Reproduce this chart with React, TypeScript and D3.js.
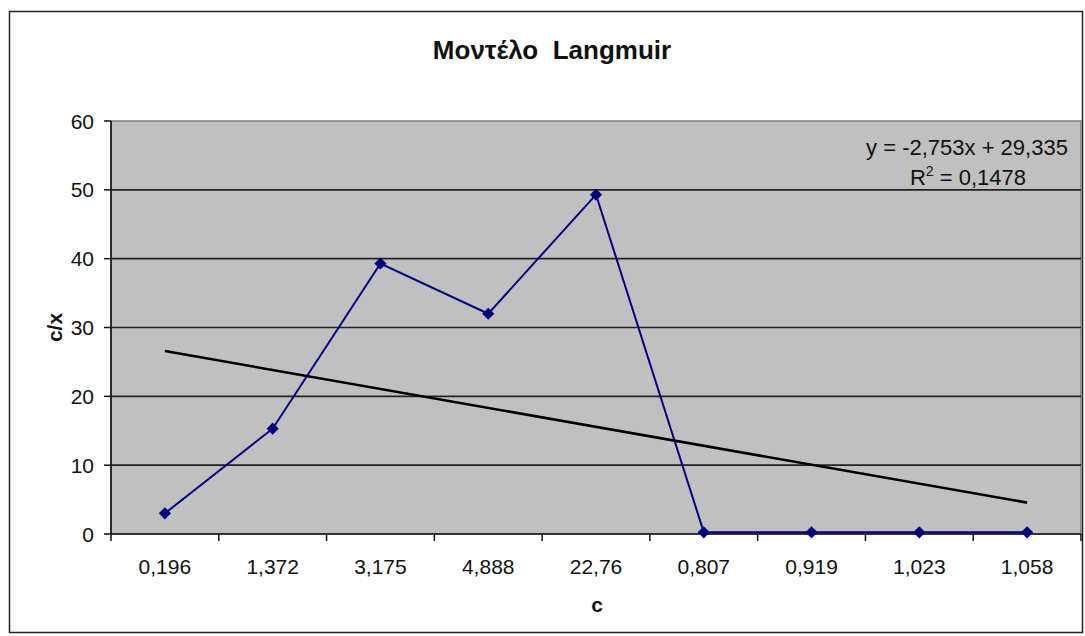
import React from "react";
import * as d3 from "d3";

const categories = ["0,196", "1,372", "3,175", "4,888", "22,76", "0,807", "0,919", "1,023", "1,058"];
const values = [3.0, 15.3, 39.3, 32.0, 49.3, 0.25, 0.25, 0.25, 0.25];
const yTicks = [0, 10, 20, 30, 40, 50, 60];
const trendSlope = -2.753;
const trendIntercept = 29.335;
const equationLines = ["y = -2,753x + 29,335", "= 0,1478"];
const title = "Μοντέλο  Langmuir";

const W = 1085;
const H = 636;
const plot = { left: 111, right: 1081, top: 121, bottom: 534 };
const FONT = "'Liberation Sans', Arial, sans-serif";

export default function App() {
  const x = d3.scaleBand<string>().domain(categories).range([plot.left, plot.right]).padding(0);
  const y = d3.scaleLinear().domain([0, 60]).range([plot.bottom, plot.top]);
  const cx = (i: number) => (x(categories[i]) as number) + x.bandwidth() / 2;

  const line = d3
    .line<number>()
    .x((_, i) => cx(i))
    .y((d) => y(d));

  const trendPts = [1, categories.length].map((n) => ({ n, v: trendSlope * n + trendIntercept }));
  const diamond = d3.symbol().type(d3.symbolDiamond2 || d3.symbolDiamond).size(95)();

  return (
    <svg width={W} height={H} style={{ position: "absolute", left: 0, top: 0, fontFamily: FONT }}>
      <rect x={0} y={0} width={W} height={H} fill="#fff" />
      <rect x={9.5} y={11.5} width={1073} height={621} fill="#fff" stroke="#222" strokeWidth={1.5} />
      <text x={552} y={59} textAnchor="middle" fontSize={26} fontWeight="bold" fill="#111" style={{ whiteSpace: "pre" }}>
        {title}
      </text>
      <rect
        x={plot.left}
        y={plot.top}
        width={plot.right - plot.left}
        height={plot.bottom - plot.top}
        fill="#c0c0c0"
        stroke="#808080"
        strokeWidth={1.5}
      />
      {yTicks
        .filter((t) => t > 0 && t < 60)
        .map((t) => (
          <line key={"g" + t} x1={plot.left} x2={plot.right} y1={y(t)} y2={y(t)} stroke="#222" strokeWidth={1.6} />
        ))}
      <line x1={plot.left} x2={plot.left} y1={plot.top} y2={plot.bottom} stroke="#111" strokeWidth={1.6} />
      <line x1={plot.left} x2={plot.right} y1={plot.bottom} y2={plot.bottom} stroke="#111" strokeWidth={1.6} />
      {yTicks.map((t) => (
        <g key={"yt" + t}>
          <line x1={plot.left - 7} x2={plot.left} y1={y(t)} y2={y(t)} stroke="#111" strokeWidth={1.5} />
          <text x={94} y={y(t)} dy="0.36em" textAnchor="end" fontSize={21} fill="#111">
            {t}
          </text>
        </g>
      ))}
      {categories.map((c, i) => (
        <g key={"xt" + c + i}>
          <line
            x1={(x(c) as number) + x.bandwidth()}
            x2={(x(c) as number) + x.bandwidth()}
            y1={plot.bottom}
            y2={plot.bottom + 7}
            stroke="#111"
            strokeWidth={1.5}
          />
          <text x={cx(i)} y={574} textAnchor="middle" fontSize={21} fill="#111">
            {c}
          </text>
        </g>
      ))}
      <line x1={plot.left} x2={plot.left} y1={plot.bottom} y2={plot.bottom + 7} stroke="#111" strokeWidth={1.5} />
      <text x={597} y={612} textAnchor="middle" fontSize={21} fontWeight="bold" fill="#111">
        c
      </text>
      <text
        transform={`translate(62, ${(plot.top + plot.bottom) / 2}) rotate(-90)`}
        textAnchor="middle"
        fontSize={21}
        fontWeight="bold"
        fill="#111"
      >
        c/x
      </text>
      <path d={line(values) || ""} fill="none" stroke="#000080" strokeWidth={2} />
      {values.map((v, i) => (
        <path key={"m" + i} d={diamond || ""} transform={`translate(${cx(i)},${y(v)})`} fill="#000080" />
      ))}
      <line
        x1={cx(trendPts[0].n - 1)}
        x2={cx(trendPts[1].n - 1)}
        y1={y(trendPts[0].v)}
        y2={y(trendPts[1].v)}
        stroke="#000"
        strokeWidth={2.6}
      />
      <text x={967} y={155} textAnchor="middle" fontSize={22} fill="#111">
        {equationLines[0]}
      </text>
      <text x={968} y={185} textAnchor="middle" fontSize={22} fill="#111">
        R<tspan dy={-9} fontSize={14}>2</tspan>
        <tspan dy={9}> {equationLines[1]}</tspan>
      </text>
    </svg>
  );
}
